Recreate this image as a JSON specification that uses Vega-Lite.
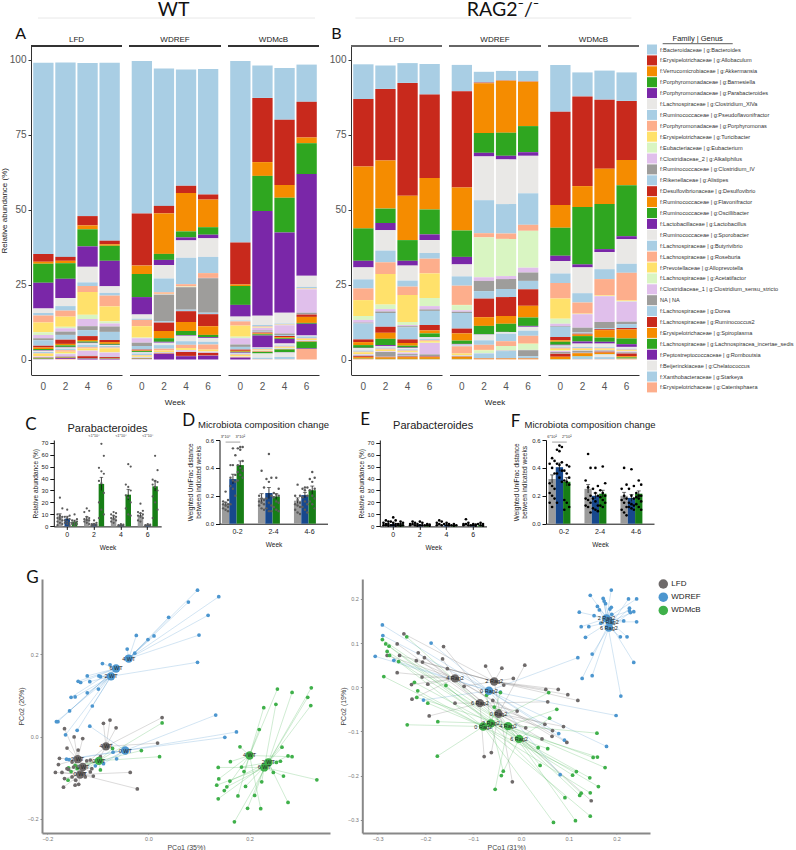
{"$schema":"https://vega.github.io/schema/vega-lite/v6.json","padding":{"left":0,"top":0,"right":0,"bottom":0},"background":"white","config":{"font":"Liberation Sans","view":{"stroke":null},"title":{"fontWeight":"normal"}},
"resolve":{"scale":{"color":"independent"},"legend":{"color":"independent"}},
"datasets":{
"genera":[{"k":1,"n":"f:Bacteroidaceae | g:Bacteroides"},{"k":2,"n":"f:Erysipelotrichaceae | g:Allobaculum"},{"k":3,"n":"f:Verrucomicrobiaceae | g:Akkermansia"},{"k":4,"n":"f:Porphyromonadaceae | g:Barnesiella"},{"k":5,"n":"f:Porphyromonadaceae | g:Parabacteroides"},{"k":6,"n":"f:Lachnospiraceae | g:Clostridium_XlVa"},{"k":7,"n":"f:Ruminococcaceae | g:Pseudoflavonifractor"},{"k":8,"n":"f:Porphyromonadaceae | g:Porphyromonas"},{"k":9,"n":"f:Erysipelotrichaceae | g:Turicibacter"},{"k":10,"n":"f:Eubacteriaceae | g:Eubacterium"},{"k":11,"n":"f:Clostridiaceae_2 | g:Alkaliphilus"},{"k":12,"n":"f:Ruminococcaceae | g:Clostridium_IV"},{"k":13,"n":"f:Rikenellaceae | g:Alistipes"},{"k":14,"n":"f:Desulfovibrionaceae | g:Desulfovibrio"},{"k":15,"n":"f:Ruminococcaceae | g:Flavonifractor"},{"k":16,"n":"f:Ruminococcaceae | g:Oscillibacter"},{"k":17,"n":"f:Lactobacillaceae | g:Lactobacillus"},{"k":18,"n":"f:Ruminococcaceae | g:Sporobacter"},{"k":19,"n":"f:Lachnospiraceae | g:Butyrivibrio"},{"k":20,"n":"f:Lachnospiraceae | g:Roseburia"},{"k":21,"n":"f:Prevotellaceae | g:Alloprevotella"},{"k":22,"n":"f:Lachnospiraceae | g:Acetatifactor"},{"k":23,"n":"f:Clostridiaceae_1 | g:Clostridium_sensu_stricto"},{"k":24,"n":"NA | NA"},{"k":25,"n":"f:Lachnospiraceae | g:Dorea"},{"k":26,"n":"f:Lachnospiraceae | g:Ruminococcus2"},{"k":27,"n":"f:Erysipelotrichaceae | g:Spiroplasma"},{"k":28,"n":"f:Lachnospiraceae | g:Lachnospiracea_incertae_sedis"},{"k":29,"n":"f:Peptostreptococcaceae | g:Romboutsia"},{"k":30,"n":"f:Beijerinckiaceae | g:Chelatococcus"},{"k":31,"n":"f:Xanthobacteraceae | g:Starkeya"},{"k":32,"n":"f:Erysipelotrichaceae | g:Catenisphaera"}],
"barsA":[
{"d":"LFD","w":"0","v":[63.7,2.6,0.7,6.3,8.6,1.5,0.8,2.4,3.2,0.9,1.1,0.7,1.8,0.6,0.5,0.4,0.2,0.4,0.4,0.2,0.8,0.1,0.2,0.1,0.1,0.2,0.1,0.1,0.1,0.1,0,0]},
{"d":"LFD","w":"2","v":[64.8,1.3,0.8,5.2,6.4,2.7,1.5,2,3.4,0.5,1.1,1.1,1.6,1.4,0.5,0.5,0.2,0.4,0.5,0.5,0.6,0.2,0.7,0.1,0.1,0.2,0.1,0.1,0.3,0,0,0.2]},
{"d":"LFD","w":"4","v":[51,3.1,1.3,5.7,6.8,5.2,1.2,2,7.6,1.4,2.4,1.3,2,1.3,0.5,0.4,0.2,0.5,0.8,0.4,0.7,0.1,1.6,0.1,0.1,0.6,0.1,0.1,0.3,0,0,0]},
{"d":"LFD","w":"6","v":[59.3,1.2,0.5,5,8.5,2.2,0.9,3.6,5,0.7,1,1.8,2.7,0.7,0.6,0.3,0.1,0.3,0.5,0.3,1.3,0.1,1.3,0.1,0.1,0.4,0.1,0.1,0.2,0,0,0]},
{"d":"WDREF","w":"0","v":[50.8,17.4,2.8,7.7,5.8,1.4,0.4,2.1,3.8,0.2,1.5,1.1,1.2,0.3,0.2,0.3,0.1,0.4,0.5,0.2,0.4,0.1,0.2,0,0.1,0.1,0.1,0.1,0.1,0.1,0,0]},
{"d":"WDREF","w":"2","v":[45.8,2.5,13.5,2,1.7,4.5,4.6,0.5,0.1,0.1,0.1,8.8,0.5,2.8,2.4,1.2,0.3,0.8,1.2,0.6,0.5,0.1,0.1,0.1,0.1,0.1,0.1,0,1.9,0,0,0]},
{"d":"WDREF","w":"4","v":[38.8,2.4,12.8,2,1,5.8,8.8,0.7,0.1,0.1,0.1,7.5,0.5,3.6,3,1.4,0.2,1.8,1.2,1.1,0.6,0.1,0.5,0,0.1,1.3,0.1,0,1.1,0,0,0]},
{"d":"WDREF","w":"6","v":[41.8,1.7,9.2,2.5,1.2,6.2,5.4,1.6,0,0,0.1,11.5,0.5,4,2.9,0.7,0.3,1.3,0.9,1.7,0.6,0.1,0.3,0,0.1,0.8,0.1,0,1.3,0,0,0]},
{"d":"WDMcB","w":"0","v":[60.5,14,0.5,6.3,3.9,1.3,0.3,1.4,3.7,0.5,2.1,0.8,0.9,0.4,0.3,0.2,0.2,0.2,0.3,0.2,0.5,0.1,0.1,0,0.1,0.1,0,0,0.6,0,0,0]},
{"d":"WDMcB","w":"2","v":[10.8,21.4,4.6,11.7,34.9,3.1,0.5,0.3,0.1,0.1,0.8,0.4,0.3,0.3,0.3,0.4,4,0.2,0.3,0.2,0.3,0.1,0.1,0,0.1,0.1,0.1,0.5,0,1.4,0.5,0.1]},
{"d":"WDMcB","w":"4","v":[17.3,21.7,4.3,11.6,26.7,3.6,0.3,0.1,0.1,0.1,2.7,0.5,0.4,0.4,0.3,0.3,1.5,0.6,0.4,0.2,0.3,0.1,0.1,0,0.1,0.1,0.1,0.9,0.1,1.5,0.7,0.1]},
{"d":"WDMcB","w":"6","v":[12.4,11.9,1.9,10.3,33.9,3.7,0.5,0.1,0.1,0.1,7.8,0.5,0.1,0.8,2,0.3,3.9,0.3,0.6,0.2,0.4,0.1,0.2,0,0.1,0.1,0.1,2.2,0.2,0,0,3.5]}],
"barsB":[
{"d":"LFD","w":"0","v":[11.6,22.5,20.6,10.8,2.2,4,3,3.9,5.3,1.3,0.9,0.3,5.3,0.9,1,0.9,0.1,0.8,0.4,0.2,0.6,0.1,0.3,0.2,0.1,0.3,0.5,0.1,0,0,0,0.2]},
{"d":"LFD","w":"2","v":[7.8,23.9,16,4.8,2.4,6.8,3.9,3.9,10.2,1.5,0.8,0.5,4.6,2,2,2.1,0.4,0.4,0.4,0.3,0.5,0.1,0.2,1.5,0.1,0.2,0.5,0.1,0,0,0,0.1]},
{"d":"LFD","w":"4","v":[6.6,37.6,14.8,6.9,1.6,5,2,2.8,9,1,0.4,0.4,4,1.2,0.9,0.6,0.2,0.4,0.4,0.2,0.4,0.1,0.5,0.5,0.3,0.2,0.6,0.1,0,0,0,0.1]},
{"d":"LFD","w":"6","v":[10.2,27.8,10.5,8.3,1.9,4.3,1.9,4.9,8.2,2.7,1.1,0.5,4.7,1.8,1,1.2,0.1,0.5,0.5,0.3,0.5,0.1,3.8,0.6,0.1,0.2,0.6,0.1,0,0,0,0.1]},
{"d":"WDREF","w":"0","v":[8.8,32.1,14.3,8.8,2.5,4,3.1,6.4,0.1,1.7,0.5,0.4,5.2,1.6,2.4,1.1,0.2,0.3,0.3,2.4,0.5,0.2,0.1,0.1,0.1,0.1,0.7,0.1,0,0,0,0.1]},
{"d":"WDREF","w":"2","v":[3.6,0.2,16.6,6.6,1.2,14.6,11,1.4,0,13.3,1.2,3.4,2.5,6.2,2.9,2.8,0.1,1.9,1.5,1.7,0.2,0.9,0.1,0,1.6,0.1,0.2,0,0,0,0,0.1]},
{"d":"WDREF","w":"4","v":[3.2,0.1,17.3,7.7,1.2,14.9,9.8,1.8,0,12.4,1,3.3,2.7,6.3,2.6,2.7,0.1,0.5,2.5,1.6,0,1.5,0.1,0.1,2.4,0.1,0.2,0,0,0,0,0.1]},
{"d":"WDREF","w":"6","v":[3.5,0.1,14.8,8.7,1.2,12.5,10.5,2,0,12.3,1.6,2.8,2.8,5.5,3.9,2.8,0.3,1.3,1.7,2.6,0.1,2,0.1,2,0.7,0.1,0.2,0,0,0,0,0.1]},
{"d":"WDMcB","w":"0","v":[15.6,31.1,7.6,9.3,1.8,4.1,3.2,5.2,6.7,1.7,0.7,0.3,3.4,1.1,0.5,1,0.2,0.4,0.4,0.3,0.6,0.2,0.3,0.5,0.1,1,0.7,0.1,0,0,0,0.1]},
{"d":"WDMcB","w":"2","v":[8,29.9,7,19.1,1,8.6,3.1,3.7,0.1,0.1,4.5,1.6,0.4,0.3,0.5,1.8,0.7,1.1,0.4,0.2,0.5,0.1,0.1,0.6,0.1,0.1,1,0.1,0,0,0.9,0.1]},
{"d":"WDMcB","w":"4","v":[9.7,23,11.8,15,1,5.7,3.3,5.4,0.2,0.1,8.6,2,0.4,0.3,2.5,1.4,0.6,1.2,0.3,0.2,0.4,0.1,0.1,0.3,0.1,0.3,0.5,0.1,0,0.9,0.7,0.1]},
{"d":"WDMcB","w":"6","v":[9.5,19.7,8.4,17,1,8.2,3,9.2,0.2,0.2,6.7,0.8,1.3,0.5,3,1.9,0.9,0.6,0.3,0.2,0.3,0.1,0.3,0.3,0.1,0.9,0.4,0.4,0,0,0,0.3]}],
"statC":[
{"w":"0","g":"LFD","m":8.5,"l":6.5,"h":10.5,"v":[24,15,10,9,8,7,6,5,4,3,2,1]},{"w":"0","g":"WDREF","m":6.5,"l":5,"h":8.5,"v":[14,9,8,7,6,5,4,3,3,2,1]},{"w":"0","g":"WDMcB","m":4,"l":3,"h":5.2,"v":[10,6,5,4,4,3,3,2,2,1]},
{"w":"2","g":"LFD","m":6.5,"l":5,"h":8,"v":[15,13,12,8,7,6,5,5,4,3,2]},{"w":"2","g":"WDREF","m":2,"l":1.5,"h":2.6,"v":[5,3,2,2,1.5,1,1,0.5,0.5]},{"w":"2","g":"WDMcB","m":35.5,"l":30,"h":41,"v":[69,59,49,46,44,38,36,28,20,14,10,7]},
{"w":"4","g":"LFD","m":7.5,"l":6.3,"h":8.8,"v":[12,11,10,9,8,7,6,5,4,3]},{"w":"4","g":"WDREF","m":1,"l":0.7,"h":1.3,"v":[2,1.5,1,1,0.5,0.5,0.3]},{"w":"4","g":"WDMcB","m":26.5,"l":22,"h":31,"v":[52,50,35,33,30,26,24,20,15,10,9]},
{"w":"6","g":"LFD","m":9.5,"l":8,"h":11,"v":[19,13,12,11,10,9,8,7,5,4]},{"w":"6","g":"WDREF","m":1,"l":0.7,"h":1.3,"v":[2,1.5,1,1,0.5,0.5]},{"w":"6","g":"WDMcB","m":33.5,"l":29.5,"h":38,"v":[59,47,39,38,37,35,33,30,25,20,14,7]}],
"statD":[
{"w":"0-2","g":"LFD","m":0.14,"l":0.125,"h":0.155,"v":[0.23,0.17,0.16,0.15,0.14,0.14,0.13,0.12,0.11,0.1,0.09]},{"w":"0-2","g":"WDREF","m":0.32,"l":0.285,"h":0.355,"v":[0.54,0.49,0.42,0.42,0.35,0.33,0.31,0.3,0.27,0.25,0.2,0.14]},{"w":"0-2","g":"WDMcB","m":0.42,"l":0.39,"h":0.45,"v":[0.55,0.55,0.54,0.53,0.45,0.42,0.4,0.38,0.37,0.35,0.33,0.31]},
{"w":"2-4","g":"LFD","m":0.185,"l":0.155,"h":0.215,"v":[0.38,0.26,0.2,0.18,0.17,0.16,0.15,0.14,0.13,0.11,0.1]},{"w":"2-4","g":"WDREF","m":0.22,"l":0.18,"h":0.26,"v":[0.5,0.33,0.32,0.3,0.2,0.18,0.15,0.13,0.11,0.09,0.09]},{"w":"2-4","g":"WDMcB","m":0.195,"l":0.175,"h":0.215,"v":[0.33,0.25,0.22,0.21,0.2,0.19,0.16,0.15,0.12,0.1,0.09]},
{"w":"4-6","g":"LFD","m":0.165,"l":0.145,"h":0.185,"v":[0.28,0.2,0.2,0.17,0.15,0.14,0.13,0.12,0.1,0.08,0.07]},{"w":"4-6","g":"WDREF","m":0.205,"l":0.185,"h":0.225,"v":[0.26,0.26,0.25,0.24,0.2,0.19,0.16,0.14,0.12,0.1,0.08]},{"w":"4-6","g":"WDMcB","m":0.24,"l":0.21,"h":0.27,"v":[0.37,0.33,0.32,0.3,0.25,0.24,0.2,0.18,0.16,0.14,0.11]}],
"statE":[
{"w":"0","g":"LFD","m":2,"l":1.5,"h":2.6,"v":[5,4,3,2,2,1,1,0.5]},{"w":"0","g":"WDREF","m":2,"l":1.3,"h":2.8,"v":[7.5,5,4,3,2,1,1,0.5]},{"w":"0","g":"WDMcB","m":1.5,"l":1,"h":2,"v":[4,3,2,2,1,1,0.5]},
{"w":"2","g":"LFD","m":2,"l":1.5,"h":2.5,"v":[4,3,2,2,1,1]},{"w":"2","g":"WDREF","m":1.5,"l":1,"h":2,"v":[4,3,2,1,1,0.5]},{"w":"2","g":"WDMcB","m":1,"l":0.7,"h":1.3,"v":[2,1.5,1,1,0.5]},
{"w":"4","g":"LFD","m":2,"l":1.4,"h":2.6,"v":[5,4,3,2,1,1]},{"w":"4","g":"WDREF","m":1.5,"l":1,"h":2,"v":[3,2,2,1,1]},{"w":"4","g":"WDMcB","m":1,"l":0.7,"h":1.3,"v":[2,1,1,0.5]},
{"w":"6","g":"LFD","m":2,"l":1.3,"h":2.7,"v":[6,3,2,2,1,1]},{"w":"6","g":"WDREF","m":1,"l":0.7,"h":1.3,"v":[2,1.5,1,1,0.5]},{"w":"6","g":"WDMcB","m":1,"l":0.7,"h":1.5,"v":[3,2,2,1,0.5]}],
"statF":[
{"w":"0-2","g":"LFD","m":0.32,"l":0.29,"h":0.35,"v":[0.47,0.45,0.43,0.4,0.36,0.29,0.27,0.25,0.22,0.2,0.18,0.15,0.12]},{"w":"0-2","g":"WDREF","m":0.405,"l":0.375,"h":0.435,"v":[0.56,0.55,0.53,0.52,0.44,0.43,0.42,0.38,0.36,0.33,0.3,0.15]},{"w":"0-2","g":"WDMcB","m":0.3,"l":0.27,"h":0.33,"v":[0.42,0.41,0.38,0.36,0.33,0.31,0.3,0.28,0.17,0.15,0.12,0.1]},
{"w":"2-4","g":"LFD","m":0.25,"l":0.22,"h":0.28,"v":[0.5,0.4,0.31,0.26,0.2,0.18,0.17,0.15,0.13,0.12,0.08]},{"w":"2-4","g":"WDREF","m":0.2,"l":0.18,"h":0.22,"v":[0.4,0.27,0.25,0.22,0.2,0.18,0.16,0.13,0.11,0.1,0.09]},{"w":"2-4","g":"WDMcB","m":0.215,"l":0.19,"h":0.24,"v":[0.41,0.29,0.24,0.22,0.2,0.19,0.17,0.15,0.13,0.12]},
{"w":"4-6","g":"LFD","m":0.2,"l":0.175,"h":0.225,"v":[0.4,0.28,0.25,0.2,0.18,0.17,0.15,0.12,0.1,0.08,0.06]},{"w":"4-6","g":"WDREF","m":0.185,"l":0.16,"h":0.21,"v":[0.39,0.27,0.25,0.2,0.18,0.15,0.14,0.13,0.12,0.11,0.1]},{"w":"4-6","g":"WDMcB","m":0.215,"l":0.195,"h":0.235,"v":[0.31,0.28,0.22,0.2,0.2,0.19,0.18,0.16,0.14,0.12,0.1]}],
"cenG":[{"c":"B4","g":"WDREF","t":"4 WT","cx":-0.039,"cy":0.189},{"c":"B6","g":"WDREF","t":"6 WT","cx":-0.064,"cy":0.165},{"c":"B2","g":"WDREF","t":"2 WT","cx":-0.074,"cy":0.146},{"c":"B0","g":"WDREF","t":"0 WT","cx":-0.046,"cy":-0.034},{"c":"M4","g":"WDMcB","t":"4 WT","cx":0.2,"cy":-0.046},{"c":"M2","g":"WDMcB","t":"2 WT","cx":0.237,"cy":-0.063},{"c":"M6","g":"WDMcB","t":"6 WT","cx":0.229,"cy":-0.075},{"c":"M0","g":"WDMcB","t":"0 WT","cx":-0.098,"cy":-0.059},{"c":"L4","g":"LFD","t":"4 WT","cx":-0.084,"cy":-0.024},{"c":"L2","g":"LFD","t":"2 WT","cx":-0.14,"cy":-0.055},{"c":"L6","g":"LFD","t":"6 WT","cx":-0.13,"cy":-0.074},{"c":"L0","g":"LFD","t":"0 WT","cx":-0.135,"cy":-0.092}],
"ptsG":[{"c":"B4","x":0.097,"y":0.355},{"c":"B4","x":0.139,"y":0.339},{"c":"B4","x":0.079,"y":0.326},{"c":"B4","x":0.118,"y":0.294},{"c":"B4","x":0.04,"y":0.289},{"c":"B4","x":0.1,"y":0.246},{"c":"B4","x":0.011,"y":0.244},{"c":"B4","x":-0.001,"y":0.235},{"c":"B4","x":-0.027,"y":0.202},{"c":"B4","x":-0.024,"y":0.245},{"c":"B4","x":-0.042,"y":0.212},{"c":"B2","x":0.097,"y":0.18},{"c":"B6","x":-0.091,"y":0.177},{"c":"B6","x":-0.076,"y":0.174},{"c":"B6","x":-0.121,"y":0.147},{"c":"B2","x":-0.098,"y":0.147},{"c":"B2","x":-0.095,"y":0.145},{"c":"B2","x":-0.116,"y":0.133},{"c":"B6","x":-0.139,"y":0.134},{"c":"B6","x":-0.134,"y":0.131},{"c":"B2","x":-0.121,"y":0.106},{"c":"B6","x":-0.099,"y":0.115},{"c":"B2","x":-0.145,"y":0.096},{"c":"B6","x":-0.153,"y":0.095},{"c":"B2","x":-0.111,"y":0.074},{"c":"B6","x":-0.156,"y":0.062},{"c":"B2","x":-0.182,"y":0.036},{"c":"B6","x":-0.179,"y":0.036},{"c":"B2","x":-0.141,"y":0.015},{"c":"B6","x":-0.164,"y":0.004},{"c":"B0","x":0.133,"y":0.052},{"c":"B0","x":0.174,"y":0.011},{"c":"B0","x":0.151,"y":-0.002},{"c":"B0","x":-0.116,"y":0.025},{"c":"B0","x":-0.07,"y":-0.038},{"c":"B0","x":-0.063,"y":-0.054},{"c":"B0","x":-0.162,"y":-0.055},{"c":"B0","x":-0.157,"y":-0.056},{"c":"B0","x":-0.105,"y":-0.071},{"c":"B0","x":-0.089,"y":-0.066},
{"c":"M4","x":0.255,"y":0.115},{"c":"M2","x":0.284,"y":0.107},{"c":"M2","x":0.322,"y":0.118},{"c":"M2","x":0.315,"y":0.095},{"c":"M6","x":0.321,"y":0.075},{"c":"M4","x":0.228,"y":0.07},{"c":"M6","x":0.252,"y":0.078},{"c":"M4","x":0.219,"y":0.017},{"c":"M2","x":0.264,"y":-0.026},{"c":"M4","x":0.181,"y":-0.025},{"c":"M6","x":0.276,"y":-0.047},{"c":"M4","x":0.284,"y":-0.049},{"c":"M2","x":0.261,"y":-0.06},{"c":"M6","x":0.253,"y":-0.063},{"c":"M4","x":0.162,"y":-0.061},{"c":"M6","x":0.138,"y":-0.075},{"c":"M2","x":0.184,"y":-0.074},{"c":"M4","x":0.189,"y":-0.085},{"c":"M2","x":0.247,"y":-0.087},{"c":"M6","x":0.267,"y":-0.096},{"c":"M6","x":0.333,"y":-0.105},{"c":"M4","x":0.139,"y":-0.103},{"c":"M6","x":0.135,"y":-0.118},{"c":"M2","x":0.161,"y":-0.108},{"c":"M6","x":0.155,"y":-0.122},{"c":"M4","x":0.15,"y":-0.131},{"c":"M2","x":0.192,"y":-0.121},{"c":"M6","x":0.224,"y":-0.11},{"c":"M2","x":0.138,"y":-0.151},{"c":"M4","x":0.177,"y":-0.144},{"c":"M6","x":0.21,"y":-0.143},{"c":"M2","x":0.276,"y":-0.16},{"c":"M6","x":0.196,"y":-0.174},{"c":"M4","x":0.222,"y":-0.175},{"c":"M2","x":0.17,"y":-0.207},{"c":"M0","x":0.027,"y":0.033},{"c":"M0","x":-0.014,"y":-0.034},{"c":"M0","x":0.022,"y":-0.049},{"c":"M0","x":-0.071,"y":-0.029},{"c":"M0","x":-0.095,"y":-0.081},{"c":"M0","x":-0.158,"y":-0.076},{"c":"M0","x":-0.153,"y":-0.085},{"c":"M0","x":-0.159,"y":-0.106},{"c":"M0","x":-0.141,"y":-0.078},{"c":"M0","x":-0.145,"y":-0.07},
{"c":"L4","x":0.027,"y":0.046},{"c":"L4","x":0.018,"y":-0.016},{"c":"L4","x":-0.089,"y":0.032},{"c":"L4","x":-0.076,"y":0.04},{"c":"L4","x":-0.064,"y":0.021},{"c":"L4","x":-0.095,"y":-0.049},{"c":"L4","x":-0.115,"y":-0.057},{"c":"L2","x":-0.166,"y":0.019},{"c":"L2","x":-0.13,"y":-0.005},{"c":"L2","x":-0.147,"y":-0.001},{"c":"L2","x":-0.161,"y":-0.028},{"c":"L2","x":-0.139,"y":-0.033},{"c":"L2","x":-0.176,"y":-0.053},{"c":"L2","x":-0.178,"y":-0.068},{"c":"L0","x":-0.022,"y":-0.127},{"c":"L0","x":-0.036,"y":-0.087},{"c":"L0","x":-0.184,"y":-0.087},{"c":"L0","x":-0.171,"y":-0.087},{"c":"L0","x":-0.168,"y":-0.123},{"c":"L0","x":-0.166,"y":-0.102},{"c":"L0","x":-0.145,"y":-0.118},{"c":"L0","x":-0.138,"y":-0.116},{"c":"L0","x":-0.144,"y":-0.106},{"c":"L0","x":-0.109,"y":-0.096},{"c":"L0","x":-0.125,"y":-0.098},{"c":"L0","x":-0.151,"y":-0.098},{"c":"L0","x":-0.158,"y":-0.08},{"c":"L6","x":-0.122,"y":-0.059},{"c":"L6","x":-0.112,"y":-0.078},{"c":"L6","x":-0.101,"y":-0.057},{"c":"L6","x":-0.135,"y":-0.057},{"c":"L6","x":-0.115,"y":-0.086},{"c":"L6","x":-0.148,"y":-0.074},{"c":"L6","x":-0.161,"y":-0.078},{"c":"L6","x":-0.151,"y":-0.062},{"c":"L6","x":-0.128,"y":-0.09}],
"cenH":[{"c":"B2","g":"WDREF","t":"2 Rag2","cx":0.179,"cy":0.156},{"c":"B4","g":"WDREF","t":"4 Rag2","cx":0.186,"cy":0.148},{"c":"B6","g":"WDREF","t":"6 Rag2","cx":0.184,"cy":0.135},{"c":"B0","g":"WDREF","t":"0 Rag2","cx":-0.067,"cy":-0.008},{"c":"L4","g":"LFD","t":"4 Rag2","cx":-0.138,"cy":0.02},{"c":"L2","g":"LFD","t":"2 Rag2","cx":-0.056,"cy":0.013},{"c":"L6","g":"LFD","t":"6 Rag2","cx":-0.086,"cy":-0.036},{"c":"L0","g":"LFD","t":"0 Rag2","cx":-0.047,"cy":-0.06},{"c":"M2","g":"WDMcB","t":"2 Rag2","cx":-0.063,"cy":-0.082},{"c":"M0","g":"WDMcB","t":"0 Rag2","cx":-0.079,"cy":-0.089},{"c":"M4","g":"WDMcB","t":"4 Rag2","cx":-0.027,"cy":-0.088},{"c":"M6","g":"WDMcB","t":"6 Rag2","cx":-0.004,"cy":-0.117}],
"ptsH":[{"c":"B2","x":0.189,"y":0.22},{"c":"B4","x":0.145,"y":0.208},{"c":"B6","x":0.172,"y":0.201},{"c":"B2","x":0.174,"y":0.195},{"c":"B4","x":0.177,"y":0.189},{"c":"B6","x":0.225,"y":0.2},{"c":"B2","x":0.242,"y":0.2},{"c":"B4","x":0.16,"y":0.183},{"c":"B6","x":0.164,"y":0.175},{"c":"B2","x":0.189,"y":0.181},{"c":"B4","x":0.186,"y":0.177},{"c":"B6","x":0.227,"y":0.179},{"c":"B2","x":0.227,"y":0.173},{"c":"B4","x":0.236,"y":0.171},{"c":"B6","x":0.229,"y":0.169},{"c":"B2","x":0.122,"y":0.17},{"c":"B4","x":0.153,"y":0.162},{"c":"B6","x":0.19,"y":0.165},{"c":"B2","x":0.215,"y":0.15},{"c":"B4","x":0.242,"y":0.148},{"c":"B6","x":0.167,"y":0.145},{"c":"B2","x":0.126,"y":0.137},{"c":"B4","x":0.142,"y":0.137},{"c":"B6","x":0.208,"y":0.114},{"c":"B2","x":0.222,"y":0.114},{"c":"B4","x":0.135,"y":0.113},{"c":"B6","x":0.149,"y":0.075},{"c":"B2","x":0.236,"y":0.056},{"c":"B4","x":0.128,"y":0.02},{"c":"B6","x":0.149,"y":0.026},{"c":"B2","x":0.209,"y":-0.02},{"c":"B0","x":-0.29,"y":0.141},{"c":"B0","x":-0.289,"y":0.117},{"c":"B0","x":-0.305,"y":0.07},{"c":"B0","x":-0.266,"y":0.061},{"c":"B0","x":-0.188,"y":0.1},{"c":"B0","x":-0.204,"y":-0.029},{"c":"B0","x":0.119,"y":0.067},{"c":"B0","x":0.199,"y":-0.064},{"c":"B0","x":0.179,"y":-0.134},{"c":"B0","x":0.079,"y":-0.105},{"c":"B0","x":0.091,"y":-0.12},{"c":"B0","x":0.082,"y":-0.198},{"c":"B0","x":-0.043,"y":-0.011},
{"c":"L2","x":-0.245,"y":0.121},{"c":"L6","x":-0.259,"y":0.098},{"c":"L0","x":-0.215,"y":0.078},{"c":"L4","x":-0.28,"y":0.072},{"c":"L2","x":-0.254,"y":0.072},{"c":"L6","x":-0.202,"y":0.067},{"c":"L4","x":-0.219,"y":0.06},{"c":"L2","x":-0.206,"y":0.057},{"c":"L0","x":-0.162,"y":0.092},{"c":"L4","x":-0.164,"y":0.064},{"c":"L2","x":-0.154,"y":0.042},{"c":"L4","x":-0.259,"y":0.033},{"c":"L4","x":-0.207,"y":0.023},{"c":"L4","x":-0.229,"y":0.006},{"c":"L4","x":-0.195,"y":0.007},{"c":"L4","x":-0.228,"y":-0.027},{"c":"L6","x":-0.192,"y":-0.065},{"c":"L6","x":-0.138,"y":-0.036},{"c":"L2","x":-0.119,"y":0.002},{"c":"L2","x":-0.074,"y":0.048},{"c":"L2","x":-0.04,"y":0.043},{"c":"L0","x":0.008,"y":0.05},{"c":"L2","x":-0.016,"y":0.02},{"c":"L2","x":-0.036,"y":0.005},{"c":"L2","x":0.052,"y":-0.005},{"c":"L2","x":0.078,"y":-0.005},{"c":"L2","x":0.098,"y":-0.017},{"c":"L2","x":0.119,"y":-0.03},{"c":"L6","x":0.056,"y":-0.033},{"c":"L0","x":-0.059,"y":-0.03},{"c":"L6","x":-0.008,"y":-0.054},{"c":"L6","x":0.05,"y":-0.084},{"c":"L0","x":0.089,"y":-0.089},{"c":"L0","x":0.066,"y":-0.098},{"c":"L4","x":0.065,"y":-0.111},{"c":"L4","x":0.096,"y":-0.125},{"c":"L0","x":0.01,"y":-0.092},{"c":"L0","x":0.044,"y":-0.117},{"c":"L6","x":-0.077,"y":-0.157},{"c":"L0","x":-0.062,"y":-0.148},{"c":"L2","x":-0.018,"y":-0.214},{"c":"L4","x":0.147,"y":-0.257},
{"c":"M6","x":-0.239,"y":0.114},{"c":"M4","x":-0.29,"y":0.108},{"c":"M2","x":-0.283,"y":0.098},{"c":"M6","x":-0.276,"y":0.093},{"c":"M4","x":-0.28,"y":0.081},{"c":"M6","x":-0.275,"y":0.072},{"c":"M0","x":-0.256,"y":0.058},{"c":"M0","x":-0.287,"y":0.024},{"c":"M2","x":-0.223,"y":0.011},{"c":"M0","x":-0.216,"y":-0.008},{"c":"M4","x":-0.218,"y":-0.023},{"c":"M0","x":-0.195,"y":-0.036},{"c":"M2","x":-0.157,"y":0.004},{"c":"M0","x":-0.238,"y":-0.085},{"c":"M2","x":-0.174,"y":-0.078},{"c":"M0","x":-0.175,"y":-0.156},{"c":"M2","x":-0.072,"y":-0.018},{"c":"M2","x":-0.043,"y":-0.012},{"c":"M0","x":0.058,"y":-0.012},{"c":"M4","x":0.075,"y":-0.05},{"c":"M6","x":0.06,"y":-0.07},{"c":"M4","x":-0.056,"y":-0.045},{"c":"M0","x":-0.046,"y":-0.053},{"c":"M2","x":0.159,"y":-0.104},{"c":"M4","x":0.036,"y":-0.137},{"c":"M6","x":0.056,"y":-0.139},{"c":"M4","x":0.151,"y":-0.159},{"c":"M2","x":0.16,"y":-0.158},{"c":"M4","x":0.176,"y":-0.182},{"c":"M6","x":0.04,"y":-0.177},{"c":"M0","x":0.116,"y":-0.191},{"c":"M2","x":0.108,"y":-0.199},{"c":"M6","x":0.144,"y":-0.205},{"c":"M2","x":0.162,"y":-0.225},{"c":"M0","x":0.145,"y":-0.239},{"c":"M4","x":0.126,"y":-0.24},{"c":"M6","x":0.123,"y":-0.245},{"c":"M2","x":0.092,"y":-0.25},{"c":"M0","x":0.145,"y":-0.292},{"c":"M4","x":0.114,"y":-0.302},{"c":"M0","x":0.068,"y":-0.306},{"c":"M2","x":-0.037,"y":-0.19},{"c":"M6","x":-0.041,"y":-0.2},{"c":"M4","x":-0.054,"y":-0.231}]
},
"bounds":"flush","spacing":0,
"vconcat":[
{"bounds":"flush","spacing":6,"hconcat":[
 {"width":1,"height":1,"data":{"values":[{"a":0}]},"mark":{"type":"rule","opacity":0},"encoding":{}},
 {"bounds":"flush","spacing":624.7,"hconcat":[
  {"bounds":"flush","spacing":40.4,"hconcat":[
   {"width":277,"height":10,"data":{"values":[{"t":"WT"}]},"layer":[
    {"mark":{"type":"rule","color":"#e8e8e8","strokeWidth":1},"encoding":{"y":{"datum":0,"type":"quantitative","scale":{"domain":[0,1]},"axis":null}}},
    {"mark":{"type":"text","font":"Lato","fontSize":19.5,"color":"#111","baseline":"middle"},"encoding":{"text":{"field":"t"},"x":{"datum":-0.02,"type":"quantitative","scale":{"domain":[-1,1]},"axis":null},"y":{"datum":0.8,"type":"quantitative","scale":{"domain":[0,1]},"axis":null}}}]},
   {"width":276,"height":10,"data":{"values":[{"t":"RAG2⁻/⁻"}]},"layer":[
    {"mark":{"type":"rule","color":"#e8e8e8","strokeWidth":1},"encoding":{"y":{"datum":0,"type":"quantitative","scale":{"domain":[0,1]},"axis":null}}},
    {"mark":{"type":"text","font":"Lato","fontSize":19.5,"color":"#111","baseline":"middle"},"encoding":{"text":{"field":"t"},"x":{"datum":0.07,"type":"quantitative","scale":{"domain":[-1,1]},"axis":null},"y":{"datum":0.8,"type":"quantitative","scale":{"domain":[0,1]},"axis":null}}}]}
  ]},
  {"width":70,"height":35.7,"data":{"values":[{"t":"Family | Genus"}]},"layer":[
    {"mark":{"type":"rule","color":"#333","strokeWidth":0.8},"encoding":{"y":{"datum":0,"type":"quantitative","scale":{"domain":[0,1]},"axis":null}}},
    {"mark":{"type":"text","fontSize":7.5,"color":"#222","baseline":"middle"},"encoding":{"text":{"field":"t"},"x":{"datum":0,"type":"quantitative","scale":{"domain":[-1,1]},"axis":null},"y":{"datum":0.12,"type":"quantitative","scale":{"domain":[0,1]},"axis":null}}}]}
 ]}
]},
{"width":1,"height":37.5,"data":{"values":[{"a":0}]},"mark":{"type":"rule","opacity":0},"encoding":{}},
{"bounds":"flush","spacing":320,"resolve":{"scale":{"color":"independent"},"legend":{"color":"independent"}},"hconcat":[
 {"data":{"name":"barsA"},"transform":[{"flatten":["v"]},{"window":[{"op":"row_number","as":"k"}],"groupby":["d","w"]},{"lookup":"k","from":{"data":{"name":"genera"},"key":"k","fields":["n"]}}],
  "title":{"text":"A","anchor":"start","dx":15,"dy":10,"fontSize":16,"font":"Lato","color":"#111"},
  "bounds":"flush","spacing":7.5,
  "facet":{"column":{"field":"d","type":"nominal","sort":["LFD","WDREF","WDMcB"],"title":"Week","header":{"titleOrient":"bottom","labelOrient":"top","labelFontSize":8,"labelColor":"#222","labelPadding":2,"titleFontSize":8,"titleFontWeight":"normal","titleColor":"#222","titlePadding":-2}}},
  "spec":{"width":91,"height":328.5,"layer":[
   {"mark":{"type":"bar"},"encoding":{
    "x":{"field":"w","type":"nominal","title":null,"scale":{"paddingInner":0.08,"paddingOuter":0.1},"axis":{"labelAngle":0,"labelFontSize":10,"labelColor":"#555","ticks":false,"labelPadding":6,"domainColor":"#333","domainWidth":1}},
    "y":{"field":"v","type":"quantitative","stack":"zero","scale":{"domain":[-5,104.5],"nice":false},"title":"Relative abundance (%)","axis":{"values":[0,25,50,75,100],"grid":false,"labelFontSize":10,"labelColor":"#555","tickColor":"#333","tickSize":3,"domainColor":"#333","domainWidth":1,"titleFontSize":8,"titleFontWeight":"normal","titleColor":"#222","titlePadding":1}},
    "color":{"field":"n","type":"nominal","legend":null,"scale":{"domain":["f:Bacteroidaceae | g:Bacteroides","f:Erysipelotrichaceae | g:Allobaculum","f:Verrucomicrobiaceae | g:Akkermansia","f:Porphyromonadaceae | g:Barnesiella","f:Porphyromonadaceae | g:Parabacteroides","f:Lachnospiraceae | g:Clostridium_XlVa","f:Ruminococcaceae | g:Pseudoflavonifractor","f:Porphyromonadaceae | g:Porphyromonas","f:Erysipelotrichaceae | g:Turicibacter","f:Eubacteriaceae | g:Eubacterium","f:Clostridiaceae_2 | g:Alkaliphilus","f:Ruminococcaceae | g:Clostridium_IV","f:Rikenellaceae | g:Alistipes","f:Desulfovibrionaceae | g:Desulfovibrio","f:Ruminococcaceae | g:Flavonifractor","f:Ruminococcaceae | g:Oscillibacter","f:Lactobacillaceae | g:Lactobacillus","f:Ruminococcaceae | g:Sporobacter","f:Lachnospiraceae | g:Butyrivibrio","f:Lachnospiraceae | g:Roseburia","f:Prevotellaceae | g:Alloprevotella","f:Lachnospiraceae | g:Acetatifactor","f:Clostridiaceae_1 | g:Clostridium_sensu_stricto","NA | NA","f:Lachnospiraceae | g:Dorea","f:Lachnospiraceae | g:Ruminococcus2","f:Erysipelotrichaceae | g:Spiroplasma","f:Lachnospiraceae | g:Lachnospiracea_incertae_sedis","f:Peptostreptococcaceae | g:Romboutsia","f:Beijerinckiaceae | g:Chelatococcus","f:Xanthobacteraceae | g:Starkeya","f:Erysipelotrichaceae | g:Catenisphaera"],"range":["#A9CEE4","#C8291C","#F58C00","#2FA620","#7A27A8","#E9E8E6","#A9CEE4","#FDAE8C","#FFE16B","#D9F5C2","#E0BFEB","#9E9D9B","#A9CEE4","#C8291C","#F58C00","#2FA620","#7A27A8","#E9E8E6","#A9CEE4","#FDAE8C","#FFE16B","#D9F5C2","#E0BFEB","#9E9D9B","#A9CEE4","#C8291C","#F58C00","#2FA620","#7A27A8","#E9E8E6","#A9CEE4","#FDAE8C"]}},
    "order":{"field":"k","sort":"descending"}}},
   {"mark":{"type":"rule","color":"#333","strokeWidth":1},"encoding":{"y":{"datum":104.5,"type":"quantitative"}}}
  ]}},
 {"data":{"name":"barsB"},"transform":[{"flatten":["v"]},{"window":[{"op":"row_number","as":"k"}],"groupby":["d","w"]},{"lookup":"k","from":{"data":{"name":"genera"},"key":"k","fields":["n"]}}],
  "title":{"text":"B","anchor":"start","dx":2,"dy":10,"fontSize":16,"font":"Lato","color":"#111"},
  "bounds":"flush","spacing":7.5,
  "facet":{"column":{"field":"d","type":"nominal","sort":["LFD","WDREF","WDMcB"],"title":"Week","header":{"titleOrient":"bottom","labelOrient":"top","labelFontSize":8,"labelColor":"#222","labelPadding":2,"titleFontSize":8,"titleFontWeight":"normal","titleColor":"#222","titlePadding":-2}}},
  "spec":{"width":91,"height":328.5,"layer":[
   {"mark":{"type":"bar"},"encoding":{
    "x":{"field":"w","type":"nominal","title":null,"scale":{"paddingInner":0.08,"paddingOuter":0.1},"axis":{"labelAngle":0,"labelFontSize":10,"labelColor":"#555","ticks":false,"labelPadding":6,"domainColor":"#333","domainWidth":1}},
    "y":{"field":"v","type":"quantitative","stack":"zero","scale":{"domain":[-5,104.5],"nice":false},"title":null,"axis":{"values":[0,25,50,75,100],"grid":false,"labelFontSize":10,"labelColor":"#555","tickColor":"#333","tickSize":3,"domainColor":"#333","domainWidth":1}},
    "color":{"field":"n","type":"nominal","legend":{"orient":"none","legendX":296,"legendY":-1.5,"title":null,"symbolType":"square","symbolSize":100,"symbolStrokeWidth":0,"symbolLimit":0,"labelFontSize":5.6,"labelColor":"#333","rowPadding":0.9,"labelOffset":3,"labelLimit":200},"scale":{"domain":["f:Bacteroidaceae | g:Bacteroides","f:Erysipelotrichaceae | g:Allobaculum","f:Verrucomicrobiaceae | g:Akkermansia","f:Porphyromonadaceae | g:Barnesiella","f:Porphyromonadaceae | g:Parabacteroides","f:Lachnospiraceae | g:Clostridium_XlVa","f:Ruminococcaceae | g:Pseudoflavonifractor","f:Porphyromonadaceae | g:Porphyromonas","f:Erysipelotrichaceae | g:Turicibacter","f:Eubacteriaceae | g:Eubacterium","f:Clostridiaceae_2 | g:Alkaliphilus","f:Ruminococcaceae | g:Clostridium_IV","f:Rikenellaceae | g:Alistipes","f:Desulfovibrionaceae | g:Desulfovibrio","f:Ruminococcaceae | g:Flavonifractor","f:Ruminococcaceae | g:Oscillibacter","f:Lactobacillaceae | g:Lactobacillus","f:Ruminococcaceae | g:Sporobacter","f:Lachnospiraceae | g:Butyrivibrio","f:Lachnospiraceae | g:Roseburia","f:Prevotellaceae | g:Alloprevotella","f:Lachnospiraceae | g:Acetatifactor","f:Clostridiaceae_1 | g:Clostridium_sensu_stricto","NA | NA","f:Lachnospiraceae | g:Dorea","f:Lachnospiraceae | g:Ruminococcus2","f:Erysipelotrichaceae | g:Spiroplasma","f:Lachnospiraceae | g:Lachnospiracea_incertae_sedis","f:Peptostreptococcaceae | g:Romboutsia","f:Beijerinckiaceae | g:Chelatococcus","f:Xanthobacteraceae | g:Starkeya","f:Erysipelotrichaceae | g:Catenisphaera"],"range":["#A9CEE4","#C8291C","#F58C00","#2FA620","#7A27A8","#E9E8E6","#A9CEE4","#FDAE8C","#FFE16B","#D9F5C2","#E0BFEB","#9E9D9B","#A9CEE4","#C8291C","#F58C00","#2FA620","#7A27A8","#E9E8E6","#A9CEE4","#FDAE8C","#FFE16B","#D9F5C2","#E0BFEB","#9E9D9B","#A9CEE4","#C8291C","#F58C00","#2FA620","#7A27A8","#E9E8E6","#A9CEE4","#FDAE8C"]}},
    "order":{"field":"k","sort":"descending"}}},
   {"mark":{"type":"rule","color":"#666","strokeWidth":1},"encoding":{"y":{"datum":104.5,"type":"quantitative"}}}
  ]}}
]},
{"width":1,"height":394,"data":{"values":[{"a":0}]},"mark":{"type":"rule","opacity":0},"encoding":{}},
{"bounds":"flush","spacing":21.8,"hconcat":[
 {"width":1,"height":1,"data":{"values":[{"a":0}]},"mark":{"type":"rule","opacity":0},"encoding":{}},
 {"bounds":"flush","spacing":326,"hconcat":[
  {"bounds":"flush","spacing":165.7,"hconcat":[
   {"bounds":"flush","title":{"text":"C","anchor":"start","dx":-7,"dy":15,"fontSize":17,"font":"Lato","color":"#111"},"hconcat":[
    {"width":107.4,"height":86.4,"title":{"text":"Parabacteroides","fontSize":11,"offset":0,"color":"#222"},"data":{"name":"statC"},"transform":[{"calculate":"datum.g+'_1'","as":"s"}],"layer":[
     {"mark":{"type":"bar","width":5.5},"encoding":{"x":{"field":"w","type":"nominal","title":"Week","scale":{"paddingInner":0,"paddingOuter":0},"axis":{"labelAngle":0,"labelFontSize":7,"labelColor":"#222","tickSize":3,"tickColor":"#111","domainColor":"#111","titleFontSize":6.5,"titleFontWeight":"normal","titleColor":"#222","labelPadding":1,"titlePadding":7}},"xOffset":{"field":"s","scale":{"domain":["LFD_0","LFD_1","LFD_2","WDREF_0","WDREF_1","WDREF_2","WDMcB_0","WDMcB_1","WDMcB_2"],"paddingInner":0,"paddingOuter":1}},"y":{"field":"m","type":"quantitative","stack":null,"title":"Relative abundance (%)","scale":{"domain":[0,72.2],"nice":false},"axis":{"tickCount":8,"labelOverlap":false,"grid":false,"labelFontSize":6,"labelColor":"#222","tickSize":4,"tickColor":"#111","domainColor":"#111","titleFontSize":6.5,"titleFontWeight":"normal","titleColor":"#222","titlePadding":3}},"color":{"field":"g","type":"nominal","legend":null,"scale":{"domain":["LFD","WDREF","WDMcB"],"range":["#9B9B9B","#17488D","#177E16"]}}}},
     {"mark":{"type":"rule","color":"#111","strokeWidth":0.8},"encoding":{"x":{"field":"w","type":"nominal"},"xOffset":{"field":"s"},"y":{"field":"l","type":"quantitative"},"y2":{"field":"h"}}},
     {"mark":{"type":"tick","color":"#111","thickness":0.8,"size":3.5,"orient":"horizontal"},"encoding":{"x":{"field":"w","type":"nominal"},"xOffset":{"field":"s"},"y":{"field":"h","type":"quantitative"}}},
     {"transform":[{"flatten":["v"]},{"window":[{"op":"row_number","as":"i"}],"groupby":["w","g"]},{"calculate":"datum.g+'_'+(datum.i%3)","as":"s"}],"mark":{"type":"point","filled":true,"size":5,"color":"#5a5a5a","opacity":1},"encoding":{"x":{"field":"w","type":"nominal"},"xOffset":{"field":"s"},"y":{"field":"v","type":"quantitative"}}},
     {"data":{"values":[{"w":"2","t":"<1*10⁴"},{"w":"4","t":"<1*10⁴"},{"w":"6","t":"<1*10⁴"}]},"mark":{"type":"text","fontSize":3.6,"color":"#333"},"encoding":{"x":{"field":"w","type":"nominal"},"y":{"datum":75.5,"type":"quantitative"},"text":{"field":"t"}}}
    ]}]},
   {"bounds":"flush","title":{"text":"D","anchor":"start","dx":-5,"dy":14,"fontSize":17,"font":"Lato","color":"#111"},"hconcat":[
    {"width":108,"height":83.7,"title":{"text":"Microbiota composition change","fontSize":9.5,"offset":6,"dx":-10,"color":"#222"},"data":{"name":"statD"},"transform":[{"calculate":"datum.g+'_1'","as":"s"}],"layer":[
     {"mark":{"type":"bar","width":7.3},"encoding":{"x":{"field":"w","type":"nominal","title":"Week","scale":{"paddingInner":0,"paddingOuter":0},"axis":{"labelAngle":0,"labelFontSize":7,"labelColor":"#222","tickSize":0,"domainColor":"#111","titleFontSize":6.5,"titleFontWeight":"normal","titleColor":"#222","labelPadding":4,"titlePadding":7}},"xOffset":{"field":"s","scale":{"domain":["LFD_0","LFD_1","LFD_2","WDREF_0","WDREF_1","WDREF_2","WDMcB_0","WDMcB_1","WDMcB_2"],"paddingInner":0,"paddingOuter":0.9}},"y":{"field":"m","type":"quantitative","stack":null,"title":["Weighted UniFrac distance","between indicated weeks"],"scale":{"domain":[0,0.6],"nice":false},"axis":{"tickCount":3,"labelOverlap":false,"format":".1f","grid":false,"labelFontSize":6,"labelColor":"#222","tickSize":4,"tickColor":"#111","domainColor":"#111","titleFontSize":6.5,"titleFontWeight":"normal","titleColor":"#222","titlePadding":4,"titleLineHeight":8}},"color":{"field":"g","type":"nominal","legend":null,"scale":{"domain":["LFD","WDREF","WDMcB"],"range":["#9B9B9B","#17488D","#177E16"]}}}},
     {"mark":{"type":"rule","color":"#111","strokeWidth":0.8},"encoding":{"x":{"field":"w","type":"nominal"},"xOffset":{"field":"s"},"y":{"field":"l","type":"quantitative"},"y2":{"field":"h"}}},
     {"mark":{"type":"tick","color":"#111","thickness":0.8,"size":4,"orient":"horizontal"},"encoding":{"x":{"field":"w","type":"nominal"},"xOffset":{"field":"s"},"y":{"field":"h","type":"quantitative"}}},
     {"transform":[{"flatten":["v"]},{"window":[{"op":"row_number","as":"i"}],"groupby":["w","g"]},{"calculate":"datum.g+'_'+(datum.i%3)","as":"s"}],"mark":{"type":"point","filled":true,"size":6,"color":"#5a5a5a","opacity":1},"encoding":{"x":{"field":"w","type":"nominal"},"xOffset":{"field":"s"},"y":{"field":"v","type":"quantitative"}}},
     {"data":{"values":[{"w":"0-2","s":"LFD_1"},{"w":"0-2","s":"WDMcB_1"}]},"mark":{"type":"line","color":"#444","strokeWidth":0.5},"encoding":{"x":{"field":"w","type":"nominal"},"xOffset":{"field":"s"},"y":{"datum":0.585,"type":"quantitative"}}},
     {"data":{"values":[{"w":"0-2","s":"LFD_1","t":"3*10⁴"},{"w":"0-2","s":"WDMcB_1","t":"3*10²"}]},"mark":{"type":"text","fontSize":4,"color":"#333"},"encoding":{"x":{"field":"w","type":"nominal"},"xOffset":{"field":"s"},"y":{"datum":0.62,"type":"quantitative"},"text":{"field":"t"}}}
    ]}]}
  ]},
  {"bounds":"flush","spacing":166.2,"hconcat":[
   {"bounds":"flush","title":{"text":"E","anchor":"start","dx":2,"dy":13,"fontSize":17,"font":"Lato","color":"#111"},"hconcat":[
    {"width":106.7,"height":86.4,"title":{"text":"Parabacteroides","fontSize":11,"offset":9,"color":"#222"},"data":{"name":"statE"},"transform":[{"calculate":"datum.g+'_1'","as":"s"}],"layer":[
     {"mark":{"type":"bar","width":5.5},"encoding":{"x":{"field":"w","type":"nominal","title":"Week","scale":{"paddingInner":0,"paddingOuter":0},"axis":{"labelAngle":0,"labelFontSize":7,"labelColor":"#222","tickSize":3,"tickColor":"#111","domainColor":"#111","titleFontSize":6.5,"titleFontWeight":"normal","titleColor":"#222","labelPadding":1,"titlePadding":7}},"xOffset":{"field":"s","scale":{"domain":["LFD_0","LFD_1","LFD_2","WDREF_0","WDREF_1","WDREF_2","WDMcB_0","WDMcB_1","WDMcB_2"],"paddingInner":0,"paddingOuter":1}},"y":{"field":"m","type":"quantitative","stack":null,"title":"Relative abundance (%)","scale":{"domain":[0,72.2],"nice":false},"axis":{"tickCount":8,"labelOverlap":false,"grid":false,"labelFontSize":6,"labelColor":"#222","tickSize":4,"tickColor":"#111","domainColor":"#111","titleFontSize":6.5,"titleFontWeight":"normal","titleColor":"#222","titlePadding":3}},"color":{"field":"g","type":"nominal","legend":null,"scale":{"domain":["LFD","WDREF","WDMcB"],"range":["#9B9B9B","#17488D","#177E16"]}}}},
     {"mark":{"type":"rule","color":"#111","strokeWidth":0.8},"encoding":{"x":{"field":"w","type":"nominal"},"xOffset":{"field":"s"},"y":{"field":"l","type":"quantitative"},"y2":{"field":"h"}}},
     {"transform":[{"flatten":["v"]},{"window":[{"op":"row_number","as":"i"}],"groupby":["w","g"]},{"calculate":"datum.g+'_'+(datum.i%3)","as":"s"}],"mark":{"type":"point","filled":true,"size":7,"color":"#000","opacity":1},"encoding":{"x":{"field":"w","type":"nominal"},"xOffset":{"field":"s"},"y":{"field":"v","type":"quantitative"}}}
    ]}]},
   {"bounds":"flush","title":{"text":"F","anchor":"start","dx":-3,"dy":15,"fontSize":17,"font":"Lato","color":"#111"},"hconcat":[
    {"width":108,"height":83.7,"title":{"text":"Microbiota composition change","fontSize":9.5,"offset":6,"dx":-10,"color":"#222"},"data":{"name":"statF"},"transform":[{"calculate":"datum.g+'_1'","as":"s"}],"layer":[
     {"mark":{"type":"bar","width":7.3},"encoding":{"x":{"field":"w","type":"nominal","title":"Week","scale":{"paddingInner":0,"paddingOuter":0},"axis":{"labelAngle":0,"labelFontSize":7,"labelColor":"#222","tickSize":0,"domainColor":"#111","titleFontSize":6.5,"titleFontWeight":"normal","titleColor":"#222","labelPadding":4,"titlePadding":7}},"xOffset":{"field":"s","scale":{"domain":["LFD_0","LFD_1","LFD_2","WDREF_0","WDREF_1","WDREF_2","WDMcB_0","WDMcB_1","WDMcB_2"],"paddingInner":0,"paddingOuter":0.9}},"y":{"field":"m","type":"quantitative","stack":null,"title":["Weighted UniFrac distance","between indicated weeks"],"scale":{"domain":[0,0.6],"nice":false},"axis":{"tickCount":3,"labelOverlap":false,"format":".1f","grid":false,"labelFontSize":6,"labelColor":"#222","tickSize":4,"tickColor":"#111","domainColor":"#111","titleFontSize":6.5,"titleFontWeight":"normal","titleColor":"#222","titlePadding":4,"titleLineHeight":8}},"color":{"field":"g","type":"nominal","legend":null,"scale":{"domain":["LFD","WDREF","WDMcB"],"range":["#9B9B9B","#17488D","#177E16"]}}}},
     {"mark":{"type":"rule","color":"#111","strokeWidth":0.8},"encoding":{"x":{"field":"w","type":"nominal"},"xOffset":{"field":"s"},"y":{"field":"l","type":"quantitative"},"y2":{"field":"h"}}},
     {"mark":{"type":"tick","color":"#111","thickness":0.8,"size":4,"orient":"horizontal"},"encoding":{"x":{"field":"w","type":"nominal"},"xOffset":{"field":"s"},"y":{"field":"h","type":"quantitative"}}},
     {"transform":[{"flatten":["v"]},{"window":[{"op":"row_number","as":"i"}],"groupby":["w","g"]},{"calculate":"datum.g+'_'+(datum.i%3)","as":"s"}],"mark":{"type":"point","filled":true,"size":7,"color":"#000","opacity":1},"encoding":{"x":{"field":"w","type":"nominal"},"xOffset":{"field":"s"},"y":{"field":"v","type":"quantitative"}}},
     {"data":{"values":[{"w":"0-2","s":"LFD_1"},{"w":"0-2","s":"WDMcB_1"}]},"mark":{"type":"line","color":"#444","strokeWidth":0.5},"encoding":{"x":{"field":"w","type":"nominal"},"xOffset":{"field":"s"},"y":{"datum":0.585,"type":"quantitative"}}},
     {"data":{"values":[{"w":"0-2","s":"LFD_1","t":"6*10²"},{"w":"0-2","s":"WDMcB_1","t":"2*10²"}]},"mark":{"type":"text","fontSize":4,"color":"#333"},"encoding":{"x":{"field":"w","type":"nominal"},"xOffset":{"field":"s"},"y":{"datum":0.62,"type":"quantitative"},"text":{"field":"t"}}}
    ]}]}
  ]}
 ]}
]},
{"width":1,"height":139,"data":{"values":[{"a":0}]},"mark":{"type":"rule","opacity":0},"encoding":{}},
{"bounds":"flush","spacing":10,"resolve":{"scale":{"color":"independent"},"legend":{"color":"independent"}},"hconcat":[
 {"width":1,"height":1,"data":{"values":[{"a":0}]},"mark":{"type":"rule","opacity":0},"encoding":{}},
 {"bounds":"flush","spacing":320.3,"resolve":{"scale":{"color":"independent"},"legend":{"color":"independent"}},"hconcat":[
  {"bounds":"flush","title":{"text":"G","anchor":"start","dx":9,"dy":12,"fontSize":17,"font":"Lato","color":"#111"},"hconcat":[
   {"width":288,"height":254,"encoding":{"color":{"field":"g","type":"nominal","legend":null,"scale":{"domain":["LFD","WDREF","WDMcB"],"range":["#6E6A6A","#4C96CF","#3FB04A"]}}},"layer":[
    {"data":{"name":"ptsG"},"transform":[{"lookup":"c","from":{"data":{"name":"cenG"},"key":"c","fields":["g","cx","cy"]}}],"mark":{"type":"rule","strokeWidth":0.7,"opacity":0.35},"encoding":{"x":{"field":"x","type":"quantitative","title":"PCo1 (35%)","scale":{"domain":[-0.2105,0.359],"nice":false,"zero":false},"axis":{"values":[-0.2,0,0.2],"format":".1f","grid":false,"domainColor":"#888","domainWidth":2,"tickColor":"#888","tickSize":1,"labelFontSize":5.5,"labelColor":"#777","titleFontSize":7,"titleFontWeight":"normal","titleColor":"#444","titlePadding":2,"labelPadding":2}},"y":{"field":"y","type":"quantitative","title":"PCo2 (20%)","scale":{"domain":[-0.234,0.382],"nice":false,"zero":false},"axis":{"values":[-0.2,0,0.2],"format":".1f","grid":false,"domainColor":"#888","domainWidth":2,"tickColor":"#888","tickSize":2,"labelFontSize":5.5,"labelColor":"#777","titleFontSize":7,"titleFontWeight":"normal","titleColor":"#444","titlePadding":3,"labelPadding":2}},"x2":{"field":"cx"},"y2":{"field":"cy"}}},
    {"data":{"name":"ptsG"},"transform":[{"lookup":"c","from":{"data":{"name":"cenG"},"key":"c","fields":["g"]}}],"mark":{"type":"point","filled":true,"size":14,"opacity":1},"encoding":{"x":{"field":"x","type":"quantitative"},"y":{"field":"y","type":"quantitative"}}},
    {"data":{"name":"cenG"},"mark":{"type":"point","filled":true,"size":70,"opacity":1},"encoding":{"x":{"field":"cx","type":"quantitative"},"y":{"field":"cy","type":"quantitative"}}},
    {"data":{"name":"cenG"},"mark":{"type":"text","fontSize":5.5,"color":"#222"},"encoding":{"x":{"field":"cx","type":"quantitative"},"y":{"field":"cy","type":"quantitative"},"text":{"field":"t"},"color":{"value":"#222"}}}
   ]}]},
 {"width":287.7,"height":254,"encoding":{"color":{"field":"g","type":"nominal","legend":{"orient":"right","offset":8,"title":null,"symbolSize":90,"symbolStrokeWidth":0,"symbolOpacity":1,"labelFontSize":8,"labelColor":"#222","rowPadding":3.2,"labelOffset":3},"scale":{"domain":["LFD","WDREF","WDMcB"],"range":["#6E6A6A","#4C96CF","#3FB04A"]}}},"layer":[
    {"data":{"name":"ptsH"},"transform":[{"lookup":"c","from":{"data":{"name":"cenH"},"key":"c","fields":["g","cx","cy"]}}],"mark":{"type":"rule","strokeWidth":0.7,"opacity":0.35},"encoding":{"x":{"field":"x","type":"quantitative","title":"PCo1 (31%)","scale":{"domain":[-0.332,0.27],"nice":false,"zero":false},"axis":{"values":[-0.3,-0.2,-0.1,0,0.1,0.2],"format":".1f","grid":false,"domainColor":"#888","domainWidth":2,"tickColor":"#888","tickSize":1,"labelFontSize":5.5,"labelColor":"#777","titleFontSize":7,"titleFontWeight":"normal","titleColor":"#444","titlePadding":2,"labelPadding":2}},"y":{"field":"y","type":"quantitative","title":"PCo2 (19%)","scale":{"domain":[-0.33,0.245],"nice":false,"zero":false},"axis":{"values":[-0.3,-0.2,-0.1,0,0.1,0.2],"format":".1f","grid":false,"domainColor":"#888","domainWidth":2,"tickColor":"#888","tickSize":2,"labelFontSize":5.5,"labelColor":"#777","titleFontSize":7,"titleFontWeight":"normal","titleColor":"#444","titlePadding":1,"labelPadding":2}},"x2":{"field":"cx"},"y2":{"field":"cy"}}},
    {"data":{"name":"ptsH"},"transform":[{"lookup":"c","from":{"data":{"name":"cenH"},"key":"c","fields":["g"]}}],"mark":{"type":"point","filled":true,"size":14,"opacity":1},"encoding":{"x":{"field":"x","type":"quantitative"},"y":{"field":"y","type":"quantitative"}}},
    {"data":{"name":"cenH"},"mark":{"type":"point","filled":true,"size":70,"opacity":1},"encoding":{"x":{"field":"cx","type":"quantitative"},"y":{"field":"cy","type":"quantitative"}}},
    {"data":{"name":"cenH"},"mark":{"type":"text","fontSize":5.5,"color":"#222"},"encoding":{"x":{"field":"cx","type":"quantitative"},"y":{"field":"cy","type":"quantitative"},"text":{"field":"t"},"color":{"value":"#222"}}}
 ]}
 ]}
]}
]}
